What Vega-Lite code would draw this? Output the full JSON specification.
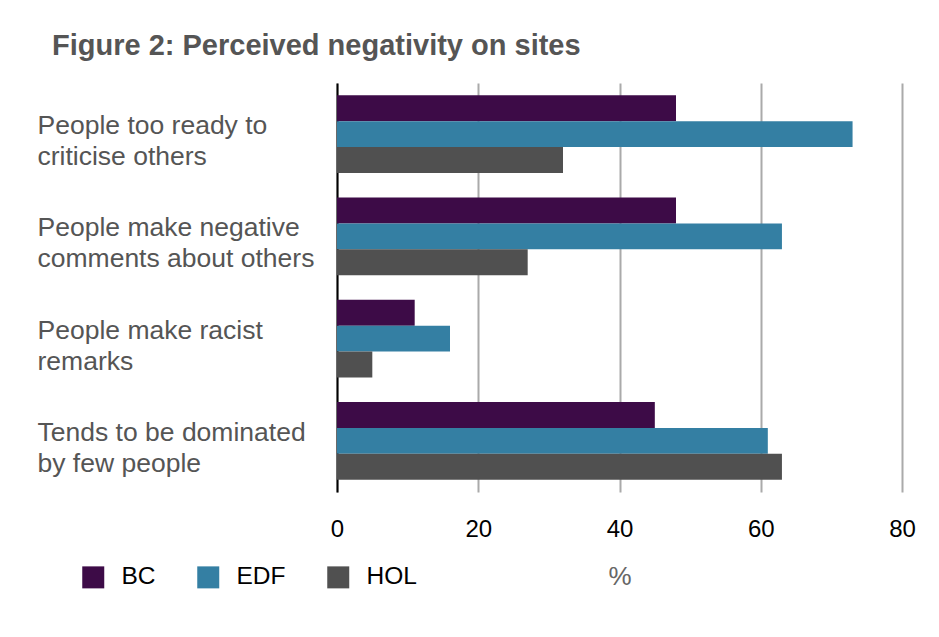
{
  "$schema": "https://vega.github.io/schema/vega-lite/v6.json",
  "width": 565,
  "height": 409,
  "autosize": "none",
  "padding": {"left": 337, "top": 83, "right": 37, "bottom": 145},
  "background": "white",
  "title": {
    "text": "Figure 2: Perceived negativity on sites",
    "anchor": "start",
    "frame": "group",
    "dx": -285,
    "offset": 22,
    "font": "Liberation Sans",
    "fontSize": 29,
    "fontWeight": "bold",
    "color": "#555555"
  },
  "data": {
    "values": [
      {"item": "People too ready to|criticise others", "group": "BC", "value": 48},
      {"item": "People too ready to|criticise others", "group": "EDF", "value": 73},
      {"item": "People too ready to|criticise others", "group": "HOL", "value": 32},
      {"item": "People make negative|comments about others", "group": "BC", "value": 48},
      {"item": "People make negative|comments about others", "group": "EDF", "value": 63},
      {"item": "People make negative|comments about others", "group": "HOL", "value": 27},
      {"item": "People make racist|remarks", "group": "BC", "value": 11},
      {"item": "People make racist|remarks", "group": "EDF", "value": 16},
      {"item": "People make racist|remarks", "group": "HOL", "value": 5},
      {"item": "Tends to be dominated|by few people", "group": "BC", "value": 45},
      {"item": "Tends to be dominated|by few people", "group": "EDF", "value": 61},
      {"item": "Tends to be dominated|by few people", "group": "HOL", "value": 63}
    ]
  },
  "mark": {"type": "bar"},
  "encoding": {
    "y": {
      "field": "item",
      "type": "nominal",
      "sort": null,
      "scale": {"paddingInner": 0.24, "paddingOuter": 0.12},
      "axis": {
        "title": null,
        "ticks": false,
        "labelAlign": "left",
        "labelPadding": 300,
        "labelOffset": -8,
        "labelExpr": "split(datum.label, '|')",
        "labelLineHeight": 31,
        "labelFont": "Liberation Sans",
        "labelFontSize": 26.5,
        "labelColor": "#555555",
        "labelLimit": 400,
        "domainColor": "#000000",
        "domainWidth": 2,
        "grid": false
      }
    },
    "yOffset": {"field": "group", "type": "nominal", "sort": ["BC", "EDF", "HOL"], "scale": {"paddingInner": 0, "paddingOuter": 0}},
    "x": {
      "field": "value",
      "type": "quantitative",
      "scale": {"domain": [0, 80], "nice": false},
      "axis": {
        "title": "%",
        "titleFont": "Liberation Sans",
        "titleFontSize": 26,
        "titleFontWeight": "normal",
        "titleColor": "#666666",
        "titlePadding": 22,
        "values": [0, 20, 40, 60, 80],
        "domain": false,
        "ticks": false,
        "labelFlush": false,
        "labelPadding": 25,
        "labelFont": "Liberation Sans",
        "labelFontSize": 24,
        "labelColor": "#000000",
        "grid": true,
        "gridColor": "#aaaaaa",
        "gridWidth": 2,
        "gridOpacity": 1
      }
    },
    "color": {
      "field": "group",
      "type": "nominal",
      "sort": ["BC", "EDF", "HOL"],
      "scale": {"domain": ["BC", "EDF", "HOL"], "range": ["#3d0b47", "#347fa3", "#505050"]},
      "legend": {
        "title": null,
        "orient": "none",
        "direction": "horizontal",
        "legendX": -256,
        "legendY": 482,
        "symbolType": "square",
        "symbolSize": 484,
        "symbolStrokeWidth": 0,
        "symbolOpacity": 1,
        "labelFont": "Liberation Sans",
        "labelFontSize": 24.5,
        "labelColor": "#000000",
        "labelOffset": 16,
        "columnPadding": 40
      }
    }
  },
  "config": {
    "view": {"stroke": null}
  }
}
